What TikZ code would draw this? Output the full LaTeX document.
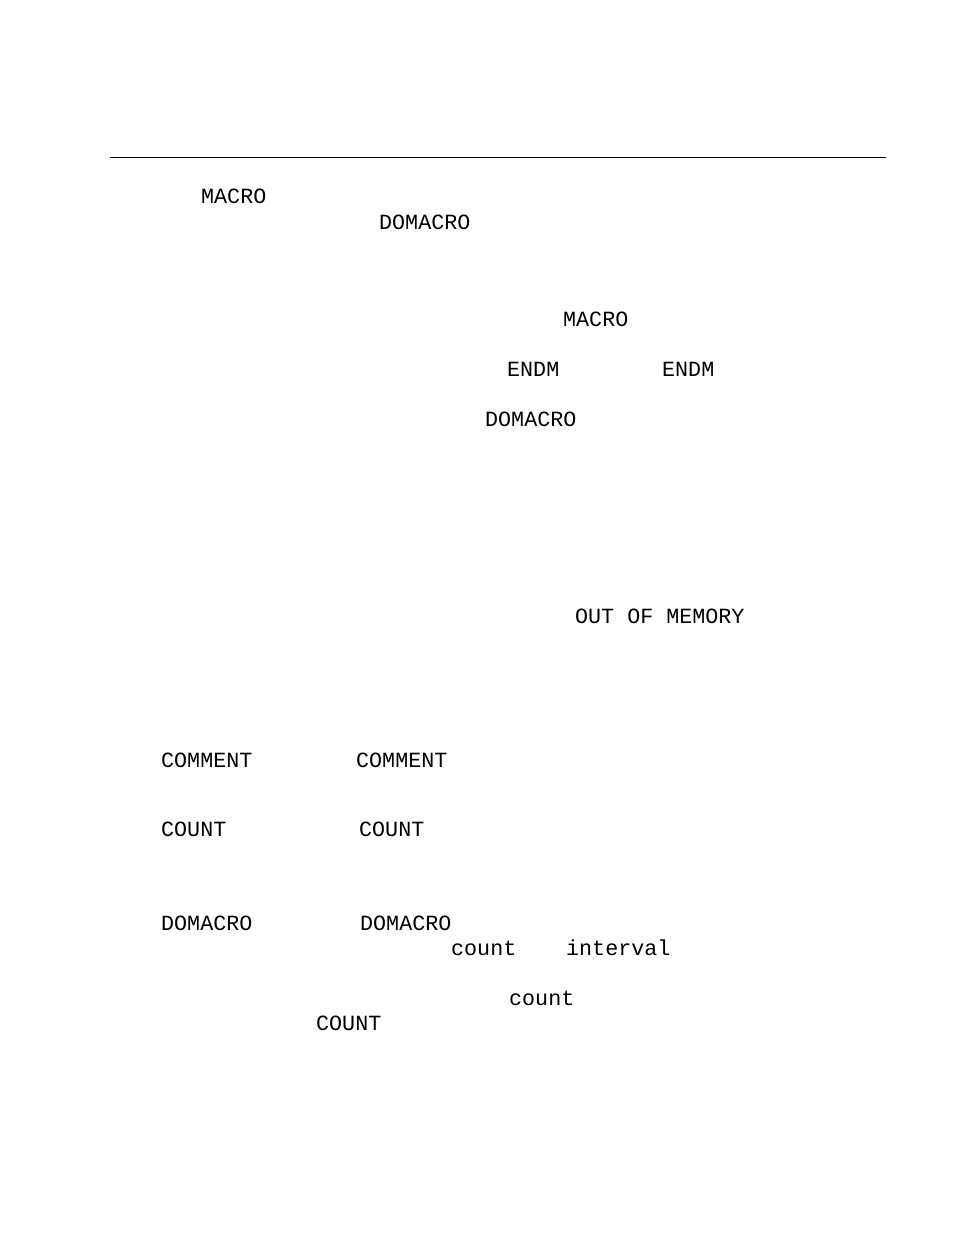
\documentclass[tikz,border=0pt]{standalone}
\usepackage{fontspec}
\setmonofont{Liberation Mono}
\begin{document}
\begin{tikzpicture}[x=1pt,y=-1pt,
  t/.style={anchor=base west,inner sep=0pt,font=\ttfamily\fontsize{21.7}{24}\selectfont}]
\useasboundingbox (0,0) rectangle (954,1235);
\draw[line width=1pt] (110,157) coordinate (l1) -- (886,157) coordinate (l2);
\node[t] (n1) at (201,203) {MACRO};
\node[t] (n2) at (379,229) {DOMACRO};
\node[t] (n3) at (563,326) {MACRO};
\node[t] (n4) at (507,376) {ENDM};
\node[t] (n5) at (662,376) {ENDM};
\node[t] (n6) at (485,426) {DOMACRO};
\node[t] (n7) at (575,623) {OUT OF MEMORY};
\node[t] (n8) at (161,767) {COMMENT};
\node[t] (n9) at (356,767) {COMMENT};
\node[t] (n10) at (161,836) {COUNT};
\node[t] (n11) at (359,836) {COUNT};
\node[t] (n12) at (161,930) {DOMACRO};
\node[t] (n13) at (360,930) {DOMACRO};
\node[t] (n14) at (451,955) {count};
\node[t] (n15) at (566,955) {interval};
\node[t] (n16) at (509,1005) {count};
\node[t] (n17) at (316,1030) {COUNT};
\end{tikzpicture}
\end{document}
